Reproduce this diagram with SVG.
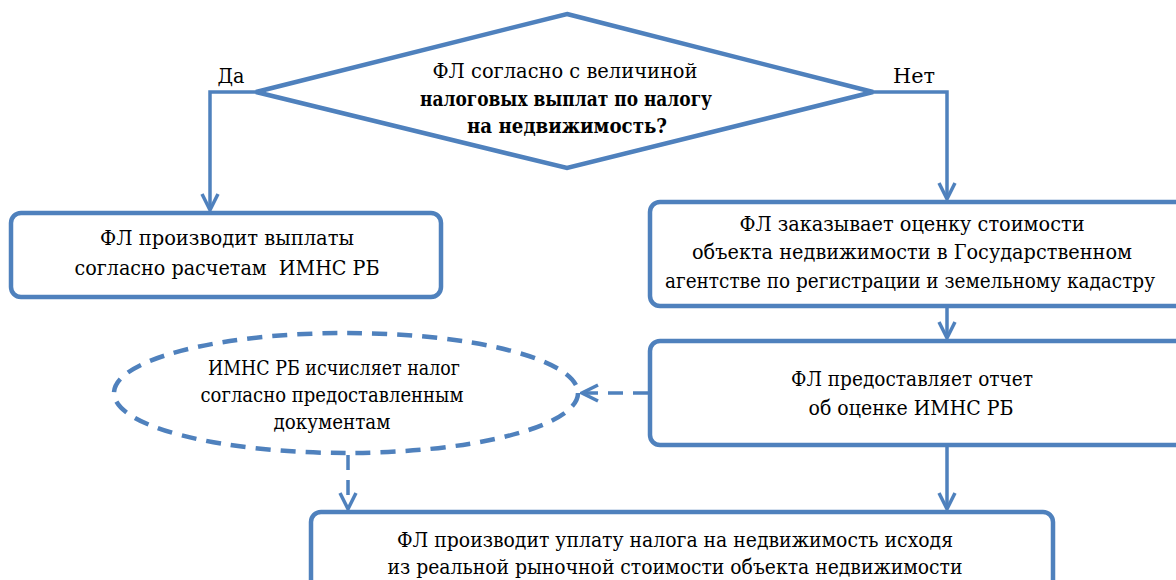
<svg xmlns="http://www.w3.org/2000/svg" width="1176" height="580" viewBox="0 0 1176 580">
<defs>
<style>
.shape{fill:#fff;stroke:#4F81BD;stroke-width:4.5}
.line{fill:none;stroke:#4F81BD;stroke-width:3.5}
.dash{stroke-dasharray:15 10}
.t{font-family:"DejaVu Serif",serif;font-size:20px;fill:#000;text-anchor:middle}
.b{font-weight:bold}
</style>
<marker id="ah" viewBox="0 0 20 20" refX="18" refY="10" markerWidth="20" markerHeight="20" markerUnits="userSpaceOnUse" orient="auto">
<path d="M2,2 L18,10 L2,18" fill="none" stroke="#4F81BD" stroke-width="3.5"/>
</marker>
</defs>
<rect width="1176" height="580" fill="#fff"/>
<g id="connectors">
<polyline class="line" points="256,92 210,92 210,210" marker-end="url(#ah)"/>
<polyline class="line" points="873,92 947,92 947,199" marker-end="url(#ah)"/>
<line class="line" x1="947" y1="306" x2="947" y2="338" marker-end="url(#ah)"/>
<line class="line dash" x1="648" y1="393" x2="582" y2="393" marker-end="url(#ah)"/>
<line class="line dash" x1="348" y1="455" x2="348" y2="509" marker-end="url(#ah)"/>
<line class="line" x1="947" y1="446" x2="947" y2="509" marker-end="url(#ah)"/>
<text class="t" x="231" y="83" textLength="27" lengthAdjust="spacingAndGlyphs">Да</text>
<text class="t" x="914" y="83" textLength="42" lengthAdjust="spacingAndGlyphs">Нет</text>
</g>
<g id="decision">
<polygon class="shape" points="567,14 873,92 567,168 256,92"/>
<text class="t" x="565" y="78" textLength="265" lengthAdjust="spacingAndGlyphs">ФЛ согласно с величиной</text>
<text class="t b" x="566" y="106" textLength="292" lengthAdjust="spacingAndGlyphs">налоговых выплат по налогу</text>
<text class="t b" x="567" y="133" textLength="200" lengthAdjust="spacingAndGlyphs">на недвижимость?</text>
</g>
<g id="box-yes">
<rect class="shape" x="11" y="213" width="430" height="84" rx="10"/>
<text class="t" x="227" y="245" textLength="254" lengthAdjust="spacingAndGlyphs">ФЛ производит выплаты</text>
<text class="t" x="227" y="275" textLength="305" lengthAdjust="spacingAndGlyphs" xml:space="preserve">согласно расчетам  ИМНС РБ</text>
</g>
<g id="box-order">
<rect class="shape" x="650" y="202" width="540" height="104" rx="10"/>
<text class="t" x="912" y="231" textLength="345" lengthAdjust="spacingAndGlyphs">ФЛ заказывает оценку стоимости</text>
<text class="t" x="912" y="259" textLength="440" lengthAdjust="spacingAndGlyphs">объекта недвижимости в Государственном</text>
<text class="t" x="910" y="288" textLength="490" lengthAdjust="spacingAndGlyphs">агентстве по регистрации и земельному кадастру</text>
</g>
<g id="box-report">
<rect class="shape" x="650" y="341" width="540" height="104" rx="10"/>
<text class="t" x="912" y="386" textLength="242" lengthAdjust="spacingAndGlyphs">ФЛ предоставляет отчет</text>
<text class="t" x="911" y="415" textLength="205" lengthAdjust="spacingAndGlyphs">об оценке ИМНС РБ</text>
</g>
<g id="ellipse-imns">
<ellipse class="shape dash" cx="346" cy="393" rx="232" ry="60"/>
<text class="t" x="334" y="375" textLength="252" lengthAdjust="spacingAndGlyphs">ИМНС РБ исчисляет налог</text>
<text class="t" x="332" y="402" textLength="263" lengthAdjust="spacingAndGlyphs">согласно предоставленным</text>
<text class="t" x="332" y="429" textLength="117" lengthAdjust="spacingAndGlyphs">документам</text>
</g>
<g id="box-pay">
<rect class="shape" x="311" y="512" width="742" height="90" rx="10"/>
<text class="t" x="675" y="547" textLength="556" lengthAdjust="spacingAndGlyphs">ФЛ производит уплату налога на недвижимость исходя</text>
<text class="t" x="675" y="574" textLength="575" lengthAdjust="spacingAndGlyphs">из реальной рыночной стоимости объекта недвижимости</text>
</g>
</svg>
